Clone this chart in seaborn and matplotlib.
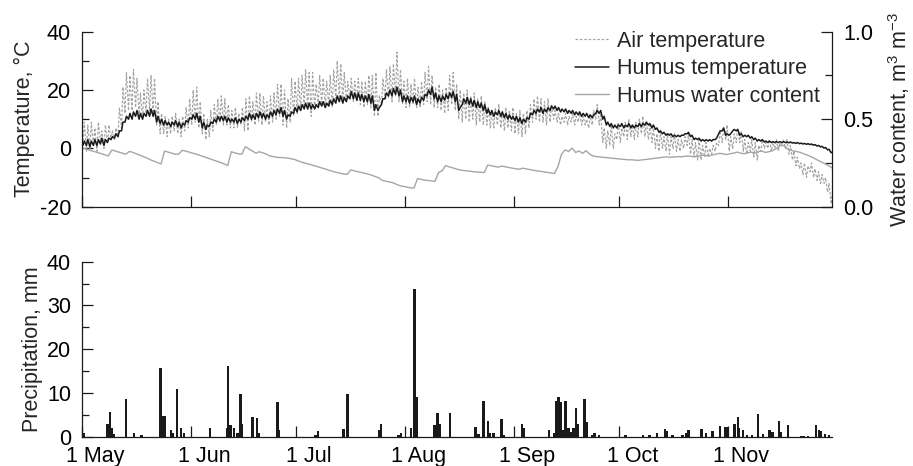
import numpy as np
import pandas as pd
import matplotlib
matplotlib.use("Agg")
import matplotlib.pyplot as plt
import seaborn as sns
from matplotlib.lines import Line2D
from matplotlib.ticker import MultipleLocator
from matplotlib.transforms import ScaledTranslation

# ---------------- data ----------------
month_labels = ["1 May", "1 Jun", "1 Jul", "1 Aug", "1 Sep", "1 Oct", "1 Nov"]
month_lengths = [31, 30, 31, 31, 30, 31, 30]   # May .. Nov
n_days = 214                                   # 1 May .. 30 Nov

air_max = [
    9, 8, 9, 7, 9, 6, 8, 8, 6, 7,
    14, 21, 26, 25, 27, 24, 19, 20, 24, 25,
    24, 16, 12, 11, 10, 11, 12, 10, 11, 14,
    17, 20, 21, 16, 12, 10, 13, 15, 17, 18,
    17, 15, 13, 14, 12, 14, 17, 18, 16, 19,
    19, 18, 16, 18, 19, 22, 22, 20, 17, 24,
    23, 24, 25, 27, 26, 26, 22, 25, 24, 23,
    25, 27, 30, 29, 26, 23, 24, 23, 24, 23,
    23, 25, 25, 26, 18, 24, 27, 28, 29, 33,
    27, 23, 24, 22, 24, 21, 23, 26, 28, 25,
    21, 22, 20, 21, 25, 26, 22, 20, 19, 20,
    18, 19, 17, 18, 16, 14, 13, 14, 15, 13,
    14, 13, 14, 12, 13, 12, 13, 15, 17, 18,
    17, 16, 17, 15, 13, 12, 11, 12, 11, 12,
    11, 12, 11, 10, 11, 13, 15, 12, 7, 6,
    8, 5, 9, 7, 9, 10, 8, 9, 10, 11,
    9, 8, 7, 5, 6, 4, 5, 4, 5, 3,
    3, 4, 5, 3, 2, 3, 1, 2, 0, 1,
    2, 6, 7, 8, 4, 5, 7, 6, 3, 2,
    3, 2, 1, 3, 2, 3, 2, 3, 2, 3,
    3, 1, -1, -3, -5, -5, -6, -5, -7, -8,
    -9, -10, -12, -15]
air_min = [
    1, -1, 0, 1, -1, 2, 0, 2, 3, 3,
    4, 7, 12, 13, 13, 14, 11, 10, 12, 13,
    12, 8, 5, 5, 4, 5, 6, 5, 4, 6,
    7, 8, 9, 7, 5, 3, 4, 6, 8, 9,
    8, 8, 7, 7, 7, 8, 6, 6, 9, 8,
    9, 8, 9, 8, 9, 10, 11, 8, 7, 9,
    11, 12, 13, 14, 14, 11, 14, 15, 15, 14,
    15, 14, 17, 17, 16, 16, 17, 16, 16, 15,
    14, 15, 14, 11, 11, 15, 17, 17, 16, 18,
    16, 15, 14, 14, 15, 14, 14, 15, 16, 15,
    14, 14, 13, 12, 13, 15, 13, 10, 9, 10,
    9, 10, 8, 9, 8, 8, 7, 7, 8, 7,
    6, 7, 6, 5, 5, 4, 5, 7, 9, 10,
    9, 9, 8, 9, 10, 9, 8, 9, 8, 9,
    8, 9, 8, 8, 7, 8, 10, 8, 2, 0,
    1, 0, 3, 2, 4, 3, 4, 3, 4, 5,
    4, 3, 2, 0, -1, 0, -1, -2, 0, -1,
    -1, 0, 1, -2, -3, -4, -4, -3, -3, -2,
    -1, 1, 2, 3, -1, 0, 2, 2, -1, -2,
    -1, -3, -4, -1, 0, 0, -1, 0, -1, 1,
    0, -2, -4, -6, -7, -9, -10, -8, -10, -11,
    -12, -12, -15, -19]

humus_max = [
    2.5, 3, 2.5, 3, 3, 3.5, 3, 3.5, 4, 5,
    6, 9, 11, 12, 12.5, 13, 12, 12, 13, 13.5,
    13, 11, 10, 9.5, 9, 9, 9.5, 9, 8.5, 9.5,
    10.5, 11.5, 12, 11, 9, 8, 9, 10, 11, 11,
    11, 10.5, 10, 10.5, 10, 10.5, 11, 12, 11.5, 12,
    12.5, 12, 11.5, 12.5, 13, 13.5, 14, 13, 11.5, 12.5,
    14, 14.5, 15, 15.5, 15.5, 15, 15, 16, 16, 15.5,
    16.5, 17, 18, 18, 17.5, 18, 19.5, 19, 19, 18.5,
    18, 18.5, 18, 15, 14, 17, 19, 20, 20.5, 21,
    20, 18, 18, 17.5, 18, 17, 17.5, 18.5, 20, 21,
    19, 18, 18, 18.5, 19, 19.5, 18.5, 14, 17, 17.5,
    17, 16.5, 16, 15.5, 15, 13.5, 13, 12.5, 13, 12.5,
    12, 11.5, 11, 11, 10.5, 10, 10.5, 12, 13, 13.5,
    14, 13.5, 14, 14.5, 14.5, 14, 13.5, 13.5, 13, 13,
    12.5, 12.5, 12, 12, 11.5, 11.5, 13, 13, 11, 9,
    8.5, 8, 8, 8.5, 8, 8.5, 8, 8, 8.5, 8.5,
    9, 8.5, 8, 7, 6, 5.5, 5, 5, 4.5, 4.5,
    4.5, 5, 5.5, 4.5, 3.5, 3.5, 3, 3, 3, 3,
    3.5, 6, 7, 5, 5, 6.5, 6.5, 5, 4.5, 4.5,
    4, 3.5, 3, 3, 2.5, 2.5, 2.3, 2.3, 2.3, 2.3,
    2.2, 2.2, 2, 2, 1.8, 1.7, 1.6, 1.5, 1.3, 1,
    0.7, 0.3, -0.3, -1.2]
humus_min = [
    1, 1, 0.5, 1, 1, 1.5, 1, 2, 3, 3.5,
    4, 6, 9, 10, 10, 11, 10, 10, 11, 11,
    11, 9, 8.5, 8, 8, 7.5, 8, 7.5, 7, 8,
    9, 10, 10, 9, 7, 6.5, 7.5, 8.5, 9, 9.5,
    9.5, 9, 9, 9, 8.5, 9, 9.5, 10, 10, 10,
    10.5, 10.5, 10, 10.5, 11, 11.5, 12, 11, 10, 11,
    12, 12.5, 13, 13.5, 13.5, 13.5, 13.5, 14, 14.5, 14,
    14.5, 15, 15.5, 16, 15.5, 16, 17, 17, 16.5, 16.5,
    16, 16, 15.5, 13, 13, 15, 17, 18, 18, 18.5,
    18, 16, 16, 15.5, 16, 15, 15.5, 16.5, 18, 18.5,
    17, 16, 16, 16.5, 17, 17.5, 16, 13, 15, 15.5,
    15, 14.5, 14, 14, 13, 12, 11.5, 11, 11.5, 11,
    10.5, 10, 10, 9.5, 9, 8.5, 9, 10, 11.5, 12,
    12.5, 12, 12.5, 13, 13.5, 13, 12.5, 12.5, 12, 12,
    11.5, 11.5, 11, 11, 10.5, 10.5, 12, 12, 10, 8,
    7.5, 7, 7, 7.5, 7, 7.5, 7, 7, 7.5, 7.5,
    8, 8, 7, 6.5, 5.5, 5, 4.5, 4.5, 4, 4,
    4, 4.5, 5, 4, 3, 3, 2.5, 2.5, 2.5, 2.5,
    3, 5, 6, 4.5, 4.5, 6, 6, 4.5, 4, 4,
    3.5, 3, 2.5, 2.5, 2.2, 2, 2, 2, 2, 2,
    2, 1.9, 1.8, 1.7, 1.6, 1.5, 1.4, 1.3, 1.1, 0.8,
    0.5, 0.1, -0.5, -1.5]

water_content = [
    0.333, 0.327, 0.321, 0.315, 0.309, 0.303, 0.297, 0.290, 0.324, 0.318,
    0.312, 0.306, 0.300, 0.316, 0.310, 0.302, 0.294, 0.286, 0.278, 0.268,
    0.260, 0.252, 0.244, 0.318, 0.312, 0.306, 0.300, 0.300, 0.322, 0.318,
    0.312, 0.306, 0.300, 0.294, 0.287, 0.280, 0.273, 0.266, 0.259, 0.252,
    0.244, 0.236, 0.314, 0.308, 0.302, 0.300, 0.343, 0.330, 0.318, 0.306,
    0.314, 0.308, 0.300, 0.290, 0.286, 0.282, 0.281, 0.280, 0.278, 0.274,
    0.270, 0.262, 0.255, 0.249, 0.244, 0.238, 0.232, 0.226, 0.220, 0.214,
    0.207, 0.201, 0.196, 0.191, 0.187, 0.185, 0.210, 0.205, 0.200, 0.196,
    0.191, 0.186, 0.180, 0.172, 0.165, 0.150, 0.146, 0.141, 0.137, 0.128,
    0.120, 0.116, 0.112, 0.108, 0.106, 0.160, 0.157, 0.152, 0.150, 0.147,
    0.145, 0.195, 0.205, 0.235, 0.228, 0.222, 0.216, 0.210, 0.207, 0.205,
    0.203, 0.200, 0.198, 0.197, 0.195, 0.238, 0.234, 0.230, 0.226, 0.232,
    0.228, 0.224, 0.220, 0.217, 0.214, 0.220, 0.216, 0.212, 0.208, 0.205,
    0.202, 0.199, 0.196, 0.193, 0.190, 0.230, 0.300, 0.325, 0.315, 0.335,
    0.310, 0.318, 0.305, 0.320, 0.300, 0.290, 0.286, 0.284, 0.282, 0.280,
    0.278, 0.276, 0.274, 0.272, 0.270, 0.268, 0.268, 0.266, 0.265, 0.268,
    0.270, 0.272, 0.275, 0.278, 0.280, 0.283, 0.285, 0.282, 0.284, 0.286,
    0.285, 0.288, 0.290, 0.287, 0.286, 0.290, 0.294, 0.292, 0.290, 0.296,
    0.300, 0.305, 0.302, 0.298, 0.303, 0.306, 0.312, 0.306, 0.303, 0.308,
    0.312, 0.305, 0.315, 0.318, 0.310, 0.314, 0.320, 0.330, 0.345, 0.352,
    0.335, 0.325, 0.318, 0.315, 0.310, 0.302, 0.295, 0.286, 0.276, 0.265,
    0.255, 0.245, 0.235, 0.222]

# precipitation events: day since 1 May, amount in mm
rain_day = [
    0.0, 0.5, 7.2, 7.9, 8.4, 9.0, 12.6, 14.8, 16.9, 22.3,
    23.1, 23.7, 25.4, 25.9, 27.1, 28.2, 29.0, 36.5, 41.2, 41.6,
    42.3, 43.2, 44.3, 45.1, 45.6, 48.5, 49.8, 50.2, 55.6, 56.0,
    66.5, 67.2, 74.5, 75.6, 84.7, 85.1, 90.1, 90.8, 93.6, 94.7,
    95.2, 100.3, 101.2, 101.8, 104.8, 112.0, 112.9, 114.3, 115.5, 116.0,
    117.2, 119.4, 120.0, 125.3, 125.7, 132.9, 134.3, 135.0, 135.7, 136.2,
    136.8, 137.6, 138.5, 139.2, 139.9, 140.6, 141.1, 143.0, 143.8, 145.2,
    145.9, 147.1, 154.7, 159.7, 161.6, 163.7, 165.9, 166.5, 168.1, 171.0,
    171.9, 172.6, 176.4, 177.6, 179.5, 181.6, 183.0, 183.6, 185.7, 186.7,
    187.1, 188.2, 189.3, 190.7, 192.4, 193.9, 195.7, 196.5, 198.4, 198.9,
    201.0, 204.8, 205.6, 206.6, 209.0, 209.8, 210.3, 211.5, 212.6]
rain_mm = [
    4.6, 0.8, 2.9, 5.6, 2.1, 0.6, 8.6, 0.8, 0.4, 15.8,
    4.8, 4.7, 1.6, 0.9, 11.0, 1.9, 0.8, 1.9, 2.1, 16.2,
    2.6, 1.9, 0.8, 9.8, 2.9, 4.4, 4.3, 0.9, 7.9, 1.6,
    0.4, 1.2, 1.7, 9.8, 1.5, 3.0, 0.4, 0.8, 2.1, 33.8,
    9.1, 2.6, 5.4, 3.0, 5.4, 2.2, 0.6, 8.1, 3.5, 0.8,
    0.8, 4.0, 0.4, 3.0, 2.1, 1.5, 0.8, 8.1, 9.1, 8.0,
    1.6, 8.2, 2.1, 1.1, 1.9, 6.6, 3.0, 8.6, 3.3, 0.5,
    0.9, 0.4, 0.4, 0.5, 0.4, 0.8, 1.8, 1.3, 0.4, 0.5,
    0.8, 1.6, 1.7, 0.8, 1.3, 2.4, 2.2, 2.2, 2.9, 4.6,
    2.1, 1.5, 0.4, 0.5, 5.3, 0.6, 1.6, 1.0, 3.7, 1.0,
    2.6, 0.2, 0.2, 0.2, 2.6, 1.6, 1.4, 0.6, 0.4]

# ---------------- tables ----------------
days = np.arange(n_days)
# two readings per day: early-morning minimum and afternoon maximum
t_half = np.column_stack([days + 0.25, days + 0.65]).ravel()
temp_df = pd.DataFrame({
    "day": t_half,
    "air": np.column_stack([air_min, air_max]).ravel(),
    "humus": np.column_stack([humus_min, humus_max]).ravel(),
})
water_df = pd.DataFrame({"day": days + 0.5, "water": water_content})
rain_df = pd.DataFrame({"day": rain_day, "mm": rain_mm})
month_ticks = np.concatenate([[0], np.cumsum(month_lengths)[:-1]])

# ---------------- style ----------------
sns.set_theme(style="ticks")
plt.rcParams["font.family"] = ["Liberation Sans", "DejaVu Sans"]
plt.rcParams["mathtext.fontset"] = "custom"
plt.rcParams["mathtext.rm"] = "Liberation Sans"
plt.rcParams["mathtext.it"] = "Liberation Sans:italic"
plt.rcParams["mathtext.default"] = "regular"
plt.rcParams["axes.unicode_minus"] = False
FS = 15.5
INK = "#1a1a1a"
AIR_C = "#a3a3a3"
WAT_C = "#a6a6a6"

fig = plt.figure(figsize=(9.13, 4.66), dpi=100)
W, H = 913, 466
ax = fig.add_axes([82 / W, 1 - 206.7 / H, (832 - 82) / W, 175 / H])
axp = fig.add_axes([82 / W, 1 - 436.7 / H, (832 - 82) / W, 175 / H])
ax2 = ax.twinx()

# ---------------- top panel ----------------
sns.lineplot(data=temp_df, x="day", y="air", ax=ax, color=AIR_C, lw=0.85,
             linestyle=(0, (2.2, 1.5)), estimator=None, errorbar=None)
sns.lineplot(data=temp_df, x="day", y="humus", ax=ax, color=INK, lw=1.1,
             estimator=None, errorbar=None)
sns.lineplot(data=water_df, x="day", y="water", ax=ax2, color=WAT_C, lw=1.0,
             estimator=None, errorbar=None)

ax.set_xlim(0, n_days - 0.5)
ax.set_ylim(-20, 40)
ax.set_yticks([-20, 0, 20, 40])
ax.yaxis.set_minor_locator(MultipleLocator(10))
ax.set_xticks(month_ticks)
ax.tick_params(axis="x", labelbottom=False)
ax2.set_ylim(0, 1)
ax2.set_yticks([0, 0.5, 1.0])
ax2.set_yticklabels(["0.0", "0.5", "1.0"])
ax2.yaxis.set_minor_locator(MultipleLocator(0.25))

for a in (ax, ax2, axp):
    a.tick_params(which="both", direction="in", width=0.9, colors=INK,
                  labelsize=FS, pad=8, labelcolor="black")
    a.tick_params(which="major", length=8)
    a.tick_params(which="minor", length=5)
    for s in a.spines.values():
        s.set_linewidth(0.9)
        s.set_color(INK)
axp.tick_params(axis="x", pad=6.5)

ax.spines["top"].set_visible(False)
ax.spines["right"].set_visible(False)
for s in ("top", "left", "bottom"):
    ax2.spines[s].set_visible(False)
axp.spines["top"].set_visible(False)
axp.spines["right"].set_visible(False)

ax.set_xlabel("")
ax.set_ylabel("Temperature, °C", fontsize=FS, labelpad=3)
ax2.set_ylabel(r"Water content, m$^3$ m$^{-3}$", fontsize=FS, labelpad=9)

handles = [
    Line2D([], [], color=AIR_C, lw=0.85, linestyle=(0, (2.2, 1.5))),
    Line2D([], [], color=INK, lw=1.1),
    Line2D([], [], color=WAT_C, lw=1.0),
]
ax2.legend(handles, ["Air temperature", "Humus temperature", "Humus water content"],
           loc="upper right", bbox_to_anchor=(1 - 12 / 750, 1.006), frameon=False,
           fontsize=FS, handlelength=1.55, handletextpad=0.4, labelspacing=0.3,
           borderpad=0, borderaxespad=0)

# ---------------- bottom panel ----------------
axp.bar(rain_df["day"], rain_df["mm"], width=0.7, color=INK, linewidth=0)
axp.set_xlim(0, n_days - 0.5)
axp.set_ylim(0, 40)
axp.set_yticks([0, 10, 20, 30, 40])
axp.yaxis.set_minor_locator(MultipleLocator(5))
axp.set_xticks(month_ticks)
axp.set_xticklabels(month_labels)
axp.set_ylabel("Precipitation, mm", fontsize=FS, labelpad=3)
shift = ScaledTranslation(13 / 100, 0, fig.dpi_scale_trans)
for lbl in axp.get_xticklabels():
    lbl.set_transform(lbl.get_transform() + shift)

fig.savefig("out.png", dpi=100)
